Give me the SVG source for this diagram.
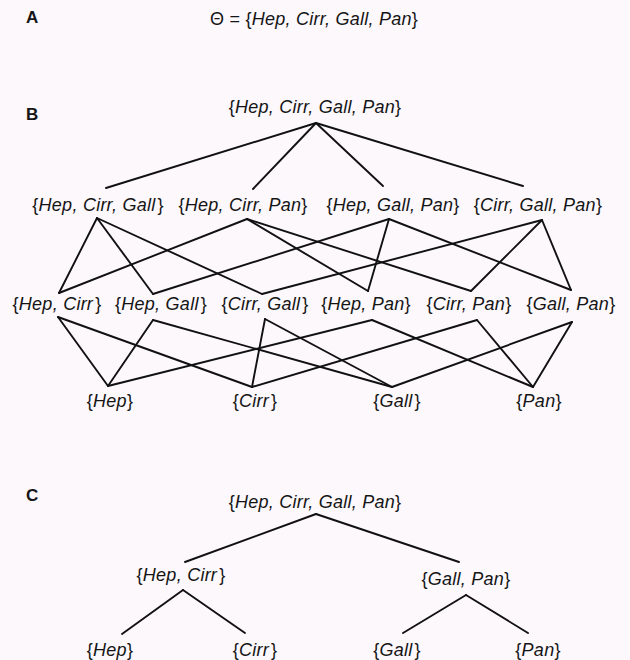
<svg xmlns="http://www.w3.org/2000/svg" width="630" height="660" viewBox="0 0 630 660">
<style>
text{font-family:"Liberation Sans",Arial,Helvetica,sans-serif;fill:#151515}
.lbl{font-size:18px;text-anchor:middle;letter-spacing:0.25px}
.i{font-style:italic}
.pan{font-size:17px;font-weight:bold}
.edges line{stroke:#111;stroke-width:1.9;stroke-linecap:round}
</style>
<rect x="0" y="0" width="630" height="660" fill="#fcf8fc"/>
<g id="panel-labels">
<text class="pan" x="26" y="23">A</text>
<text class="pan" x="26" y="120">B</text>
<text class="pan" x="26" y="501">C</text>
</g>
<g id="theta"><text class="lbl" x="314" y="25">Θ = {<tspan class="i">Hep, Cirr, Gall, Pan</tspan>}</text></g>
<g class="edges" id="connectors">
<line x1="316" y1="123" x2="106" y2="188"/>
<line x1="316" y1="123" x2="253" y2="189"/>
<line x1="316" y1="123" x2="383" y2="186"/>
<line x1="316" y1="123" x2="523" y2="186"/>
<line x1="97" y1="218" x2="59" y2="293"/>
<line x1="97" y1="218" x2="153" y2="294"/>
<line x1="97" y1="218" x2="262" y2="294"/>
<line x1="247" y1="219" x2="59" y2="293"/>
<line x1="247" y1="219" x2="368" y2="291"/>
<line x1="247" y1="219" x2="471" y2="291"/>
<line x1="389" y1="219" x2="153" y2="294"/>
<line x1="389" y1="219" x2="368" y2="291"/>
<line x1="389" y1="219" x2="571" y2="290"/>
<line x1="542" y1="220" x2="262" y2="294"/>
<line x1="542" y1="220" x2="471" y2="291"/>
<line x1="542" y1="220" x2="571" y2="290"/>
<line x1="58" y1="317" x2="108" y2="386"/>
<line x1="58" y1="317" x2="252" y2="387"/>
<line x1="153" y1="320" x2="108" y2="386"/>
<line x1="153" y1="320" x2="392" y2="387"/>
<line x1="265" y1="319" x2="252" y2="387"/>
<line x1="265" y1="319" x2="392" y2="387"/>
<line x1="372" y1="320" x2="108" y2="386"/>
<line x1="372" y1="320" x2="533" y2="387"/>
<line x1="477" y1="320" x2="252" y2="387"/>
<line x1="477" y1="320" x2="533" y2="387"/>
<line x1="572" y1="322" x2="392" y2="387"/>
<line x1="572" y1="322" x2="533" y2="387"/>
<line x1="316" y1="514" x2="185" y2="562"/>
<line x1="316" y1="514" x2="459" y2="562"/>
<line x1="183" y1="590" x2="122" y2="634"/>
<line x1="183" y1="590" x2="245" y2="633"/>
<line x1="466" y1="595" x2="403" y2="633"/>
<line x1="466" y1="595" x2="528" y2="633"/>
</g>
<g id="b-HCGP"><text class="lbl" x="315" y="113">{<tspan class="i">Hep, Cirr, Gall, Pan</tspan>}</text></g>
<g id="b-HCG"><text class="lbl" x="98" y="211">{<tspan class="i">Hep, Cirr, Gall</tspan><tspan dx="2">}</tspan></text></g>
<g id="b-HCP"><text class="lbl" x="243" y="211">{<tspan class="i">Hep, Cirr, Pan</tspan>}</text></g>
<g id="b-HGP"><text class="lbl" x="393" y="211">{<tspan class="i">Hep, Gall, Pan</tspan>}</text></g>
<g id="b-CGP"><text class="lbl" x="538" y="211">{<tspan class="i">Cirr, Gall, Pan</tspan>}</text></g>
<g id="b-HC"><text class="lbl" x="57" y="310">{<tspan class="i">Hep, Cirr</tspan><tspan dx="2">}</tspan></text></g>
<g id="b-HG"><text class="lbl" x="161" y="310">{<tspan class="i">Hep, Gall</tspan><tspan dx="2">}</tspan></text></g>
<g id="b-CG"><text class="lbl" x="265" y="310">{<tspan class="i">Cirr, Gall</tspan><tspan dx="2">}</tspan></text></g>
<g id="b-HP"><text class="lbl" x="366" y="310">{<tspan class="i">Hep, Pan</tspan>}</text></g>
<g id="b-CP"><text class="lbl" x="469" y="310">{<tspan class="i">Cirr, Pan</tspan>}</text></g>
<g id="b-GP"><text class="lbl" x="571" y="310">{<tspan class="i">Gall, Pan</tspan>}</text></g>
<g id="b-H"><text class="lbl" x="110" y="407">{<tspan class="i">Hep</tspan>}</text></g>
<g id="b-C"><text class="lbl" x="255" y="407">{<tspan class="i">Cirr</tspan><tspan dx="2">}</tspan></text></g>
<g id="b-G"><text class="lbl" x="397" y="407">{<tspan class="i">Gall</tspan><tspan dx="2">}</tspan></text></g>
<g id="b-P"><text class="lbl" x="539" y="407">{<tspan class="i">Pan</tspan>}</text></g>
<g id="c-HCGP"><text class="lbl" x="315" y="508">{<tspan class="i">Hep, Cirr, Gall, Pan</tspan>}</text></g>
<g id="c-HC"><text class="lbl" x="181" y="581">{<tspan class="i">Hep, Cirr</tspan><tspan dx="2">}</tspan></text></g>
<g id="c-GP"><text class="lbl" x="466" y="585">{<tspan class="i">Gall, Pan</tspan>}</text></g>
<g id="c-H"><text class="lbl" x="110" y="656">{<tspan class="i">Hep</tspan>}</text></g>
<g id="c-C"><text class="lbl" x="255" y="656">{<tspan class="i">Cirr</tspan><tspan dx="2">}</tspan></text></g>
<g id="c-G"><text class="lbl" x="397" y="656">{<tspan class="i">Gall</tspan><tspan dx="2">}</tspan></text></g>
<g id="c-P"><text class="lbl" x="538" y="656">{<tspan class="i">Pan</tspan>}</text></g>
</svg>
